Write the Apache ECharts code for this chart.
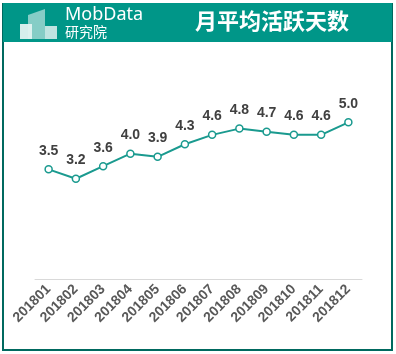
<!DOCTYPE html>
<html>
<head>
<meta charset="utf-8">
<script src="https://cdn.jsdelivr.net/npm/echarts@6/dist/echarts.min.js"></script>
<style>
html, body { margin: 0; padding: 0; background: #fff; }
#chart { width: 396px; height: 354px; }
</style>
</head>
<body>
<div id="chart"></div>
<script>
// 月份与月平均活跃天数
var months = ['201801', '201802', '201803', '201804', '201805', '201806',
    '201807', '201808', '201809', '201810', '201811', '201812'];
var days = [3.5, 3.2, 3.6, 4.0, 3.9, 4.3, 4.6, 4.8, 4.7, 4.6, 4.6, 5.0];

var teal = '#009688';
var chart = echarts.init(document.getElementById('chart'));

var option = {
    backgroundColor: '#fff',
    animation: false,
    grid: {
        left: 35,
        right: 34,
        top: 91,
        bottom: 75
    },
    xAxis: {
        type: 'category',
        data: months,
        axisLine: { lineStyle: { color: '#d9d9d9', width: 1 } },
        axisTick: { show: false },
        axisLabel: {
            rotate: 45,
            color: '#595959',
            fontWeight: 'bold',
            fontSize: 14,
            fontFamily: 'Liberation Sans, Arial',
            margin: 8
        }
    },
    yAxis: {
        type: 'value',
        min: 0,
        max: 6,
        show: false
    },
    series: [{
        type: 'line',
        data: days,
        symbol: 'circle',
        symbolSize: 7,
        lineStyle: { color: '#1a9a8f', width: 2 },
        itemStyle: { color: '#fff', borderColor: '#1a9a8f', borderWidth: 1.5 },
        label: {
            show: true,
            position: 'top',
            distance: 7,
            formatter: function (p) { return p.value.toFixed(1); },
            color: '#404040',
            fontWeight: 'bold',
            fontSize: 14,
            fontFamily: 'Liberation Sans, Arial'
        }
    }],
    graphic: [
        // 外框
        {
            type: 'rect',
            shape: { x: 3, y: 4, width: 389, height: 346 },
            style: { fill: 'none', stroke: '#00695f', lineWidth: 2 },
            silent: true
        },
        // 标题栏
        {
            type: 'rect',
            shape: { x: 3, y: 3, width: 389, height: 39 },
            style: { fill: teal },
            silent: true
        },
        // logo 楼块
        {
            type: 'polygon',
            shape: { points: [[28, 15], [45, 9], [45, 39], [28, 39]] },
            style: { fill: '#b2dfdb', opacity: 0.75 },
            silent: true
        },
        {
            type: 'rect',
            shape: { x: 20, y: 24, width: 12, height: 15 },
            style: { fill: '#e0f2f1', opacity: 0.95 },
            silent: true
        },
        {
            type: 'rect',
            shape: { x: 45, y: 26, width: 12, height: 13 },
            style: { fill: '#e0f2f1', opacity: 0.85 },
            silent: true
        },
        {
            type: 'text',
            left: 65,
            top: 6,
            style: {
                text: 'MobData',
                fill: '#fff',
                fontSize: 18,
                fontFamily: 'Noto Sans, Arial'
            },
            silent: true
        },
        {
            type: 'text',
            left: 65,
            top: 25,
            style: {
                text: '研究院',
                fill: '#fff',
                fontSize: 14,
                fontFamily: 'Noto Sans CJK SC'
            },
            silent: true
        },
        {
            type: 'text',
            left: 195,
            top: 10,
            style: {
                text: '月平均活跃天数',
                fill: '#fff',
                fontSize: 22,
                fontWeight: 'bold',
                fontFamily: 'Noto Sans CJK SC'
            },
            silent: true
        }
    ]
};

chart.setOption(option);
</script>
</body>
</html>
